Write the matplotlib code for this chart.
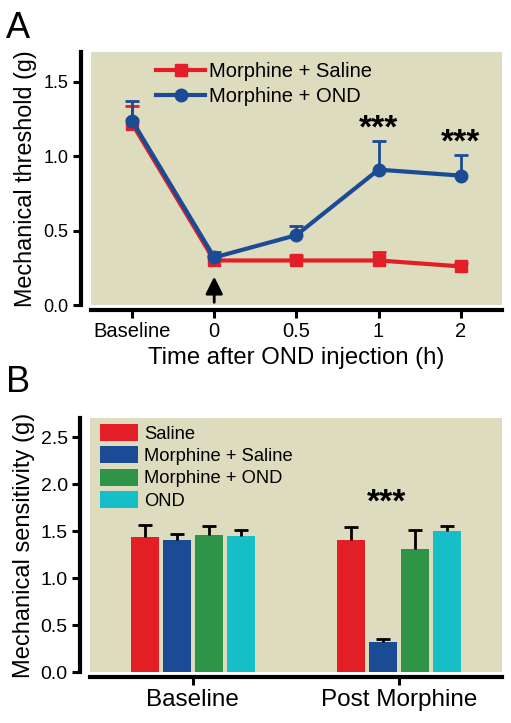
import numpy as np
import matplotlib
matplotlib.use("Agg")
import matplotlib.pyplot as plt
from matplotlib.lines import Line2D

plt.rcParams["font.family"] = ["Liberation Sans", "DejaVu Sans"]

# ----- data -----
time_labels = ["Baseline", "0", "0.5", "1", "2"]
sal_mean = [1.22, 0.30, 0.30, 0.30, 0.26]
sal_err = [0.12, 0.03, 0.03, 0.06, 0.02]
ond_mean = [1.24, 0.32, 0.47, 0.91, 0.87]
ond_err = [0.13, 0.04, 0.06, 0.19, 0.14]
sig_a = [(3, 1.18), (4, 1.09)]

groups = ["Baseline", "Post Morphine"]
bar_names = ["Saline", "Morphine + Saline", "Morphine + OND", "OND"]
bar_means = {
    "Saline": [1.44, 1.41],
    "Morphine + Saline": [1.40, 0.32],
    "Morphine + OND": [1.46, 1.31],
    "OND": [1.45, 1.50],
}
bar_errs = {
    "Saline": [0.12, 0.13],
    "Morphine + Saline": [0.07, 0.03],
    "Morphine + OND": [0.09, 0.20],
    "OND": [0.06, 0.05],
}
sig_b = (0.94, 1.80)

RED = "#E31E26"
BLUE = "#1A4B94"
GREEN = "#2E9447"
CYAN = "#16BEC8"
BG = "#DEDCBF"
bar_colors = [RED, BLUE, GREEN, CYAN]


def style_axes(ax):
    ax.set_facecolor(BG)
    for s in ("top", "right"):
        ax.spines[s].set_visible(False)
    ax.spines["left"].set_position(("outward", 7))
    ax.spines["bottom"].set_position(("outward", 3.5))
    for s in ("left", "bottom"):
        ax.spines[s].set_linewidth(3)
    ax.tick_params(direction="out", length=5.5, width=2.2)


def upper_errorbar(ax, xs, ys, errs, color, **kw):
    # only the upper half of the error bar, like the original figure
    eb = ax.errorbar(xs, ys, yerr=[np.zeros(len(xs)), errs], fmt="none", ecolor=color,
                     elinewidth=2, capsize=5, capthick=2, **kw)
    caps = eb.lines[1]
    if len(caps) > 1:
        caps[0].set_visible(False)
    return eb


fig = plt.figure(figsize=(5.11, 7.23), dpi=100)

# ----- panel A -----
ax_a = fig.add_axes([0.178, 0.578, 0.804, 0.350])
style_axes(ax_a)
x = np.arange(len(time_labels))
ax_a.plot(x, sal_mean, color=RED, lw=3, marker="s", ms=9, zorder=3)
upper_errorbar(ax_a, x, sal_mean, sal_err, RED, zorder=3)
ax_a.plot(x, ond_mean, color=BLUE, lw=3, marker="o", ms=9, zorder=4)
upper_errorbar(ax_a, x, ond_mean, ond_err, BLUE, zorder=4)
for xi, yi in sig_a:
    ax_a.text(xi, yi, "***", ha="center", va="center", fontsize=24, fontweight="bold")
ax_a.annotate("", xy=(1, 0.21), xytext=(1, 0.0),
              arrowprops=dict(arrowstyle="-|>", lw=2, color="black", mutation_scale=26))
ax_a.set_xlim(-0.5, 4.5)
ax_a.set_ylim(0, 1.7)
ax_a.set_xticks(x)
ax_a.set_xticklabels(time_labels, fontsize=14.5)
ax_a.set_yticks([0, 0.5, 1.0, 1.5])
ax_a.set_yticklabels(["0.0", "0.5", "1.0", "1.5"], fontsize=13)
ax_a.set_xlabel("Time after OND injection (h)", fontsize=17.2, labelpad=4)
ax_a.set_ylabel("Mechanical threshold (g)", fontsize=16.8, labelpad=5)
handles = [Line2D([], [], color=RED, lw=3, marker="s", ms=9),
           Line2D([], [], color=BLUE, lw=3, marker="o", ms=9)]
ax_a.legend(handles, ["Morphine + Saline", "Morphine + OND"], loc="upper left",
            bbox_to_anchor=(0.135, 1.0), frameon=False, fontsize=14.5,
            handlelength=2.4, handletextpad=0.2, labelspacing=0.28, borderaxespad=0.3,
            borderpad=0.2)

# ----- panel B -----
ax_b = fig.add_axes([0.176, 0.0705, 0.806, 0.351])
style_axes(ax_b)
gx = np.arange(len(groups))
width = 0.135
step = 0.155
for i, name in enumerate(bar_names):
    pos = gx + (i - 1.5) * step
    ax_b.bar(pos, bar_means[name], width=width, color=bar_colors[i], label=name, zorder=2)
    upper_errorbar(ax_b, pos, bar_means[name], bar_errs[name], "black", zorder=3)
ax_b.text(sig_b[0], sig_b[1], "***", ha="center", va="center", fontsize=24, fontweight="bold")
ax_b.set_xlim(-0.5, 1.5)
ax_b.set_ylim(0, 2.7)
ax_b.set_xticks(gx)
ax_b.set_xticklabels(groups, fontsize=17.5)
ax_b.set_yticks([0, 0.5, 1.0, 1.5, 2.0, 2.5])
ax_b.set_yticklabels(["0.0", "0.5", "1.0", "1.5", "2.0", "2.5"], fontsize=14)
ax_b.set_ylabel("Mechanical sensitivity (g)", fontsize=17, labelpad=4)
ax_b.legend(loc="upper left", bbox_to_anchor=(0.01, 1.0), frameon=False, fontsize=13.2,
            handlelength=2.1, handleheight=1.05, handletextpad=0.33, labelspacing=0.2,
            borderaxespad=0.1, borderpad=0.2)

fig.text(0.012, 0.985, "A", fontsize=26, va="top", ha="left")
fig.text(0.012, 0.495, "B", fontsize=26, va="top", ha="left")

fig.savefig("out.png", dpi=100)
